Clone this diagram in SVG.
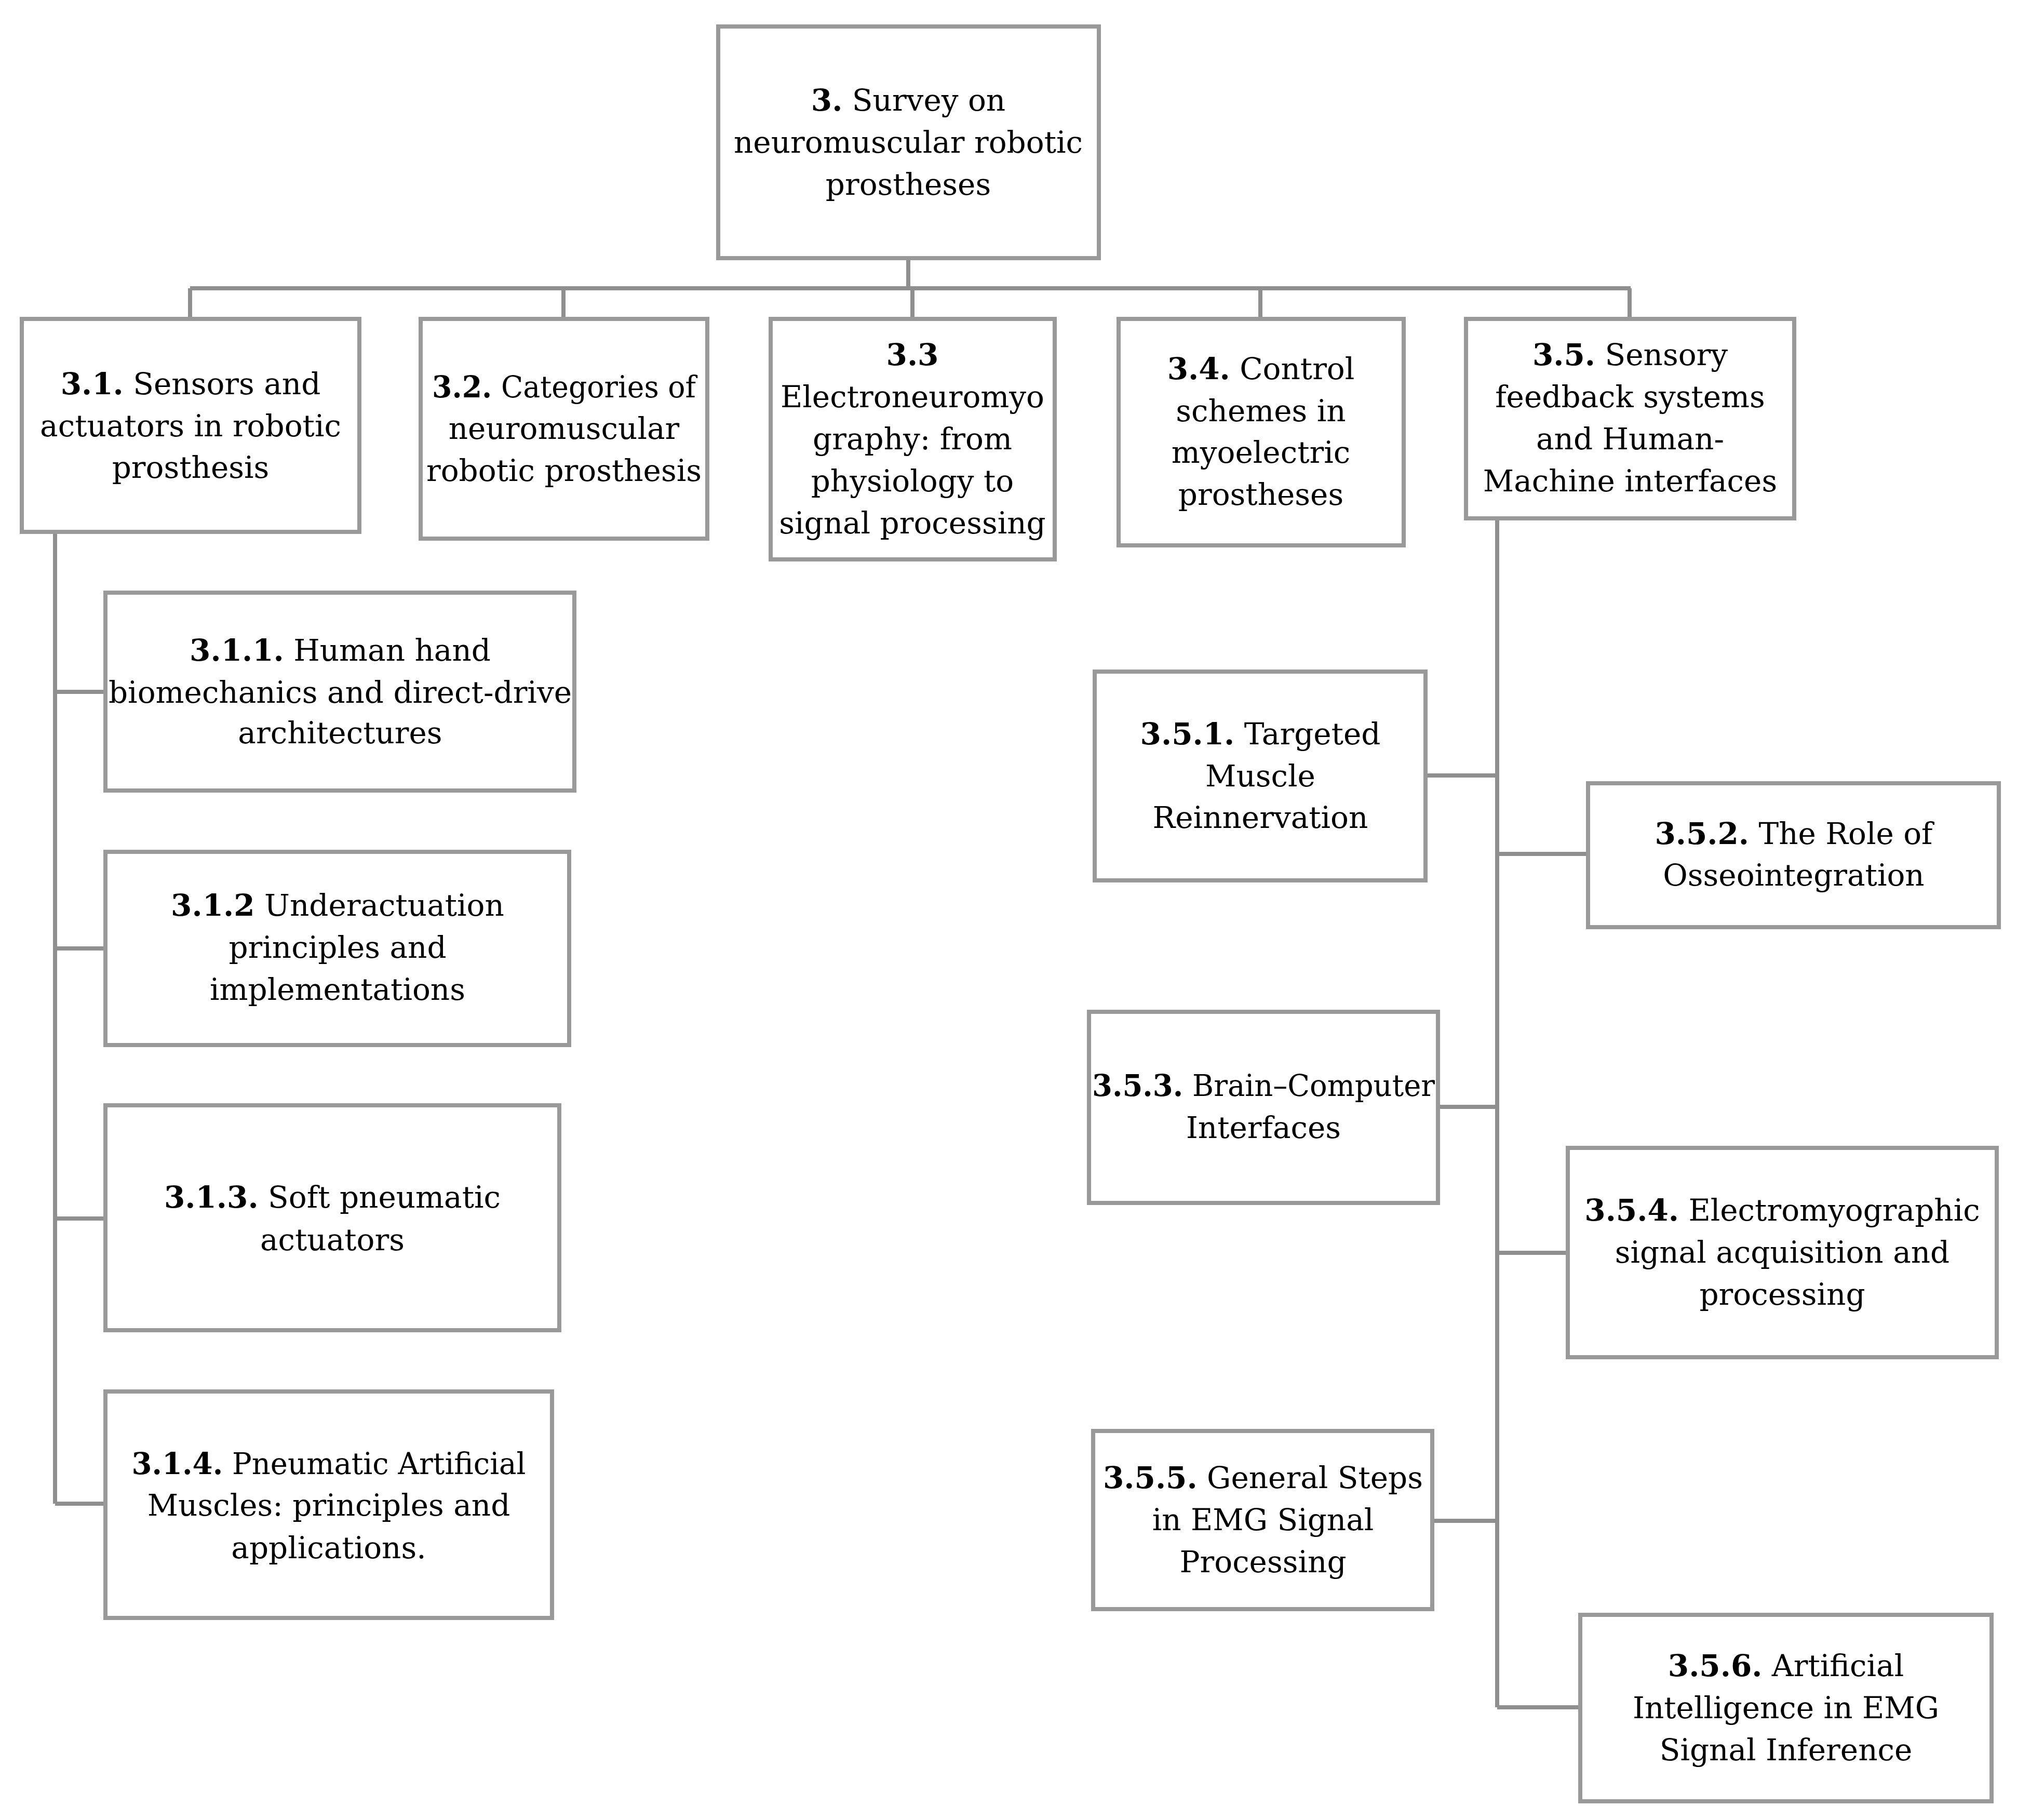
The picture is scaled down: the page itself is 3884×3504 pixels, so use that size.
<svg xmlns="http://www.w3.org/2000/svg" width="3884" height="3504" viewBox="0 0 3884 3504">
<style>
.box{fill:#ffffff;stroke:#999999;stroke-width:8}
.con{fill:none;stroke:#8f8f8f;stroke-width:8}
text{font-family:"DejaVu Serif","Liberation Serif",serif;font-size:58px;fill:#000000;text-anchor:middle}
.b{font-weight:bold}
</style>
<rect width="3884" height="3504" fill="#ffffff"/>
<g id="connectors">
<path class="con" d="M1749 501V555M366 555H3140M366 555V610M1085 555V610M1757 555V610M2427 555V610M3138 555V610"/>
<path class="con" d="M106 1028V2895M106 1332H203M106 1826H203M106 2346H203M106 2895H203"/>
<path class="con" d="M2883 1002V3287M2745 1493H2883M2883 1644H3058M2769 2131H2883M2883 2412H3019M2758 2928H2883M2883 3287H3043"/>
</g>
<g id="n3">
<rect class="box" x="1383" y="51" width="733" height="446"/>
<text x="1749" y="213"><tspan class="b">3.</tspan> Survey on</text>
<text x="1749" y="294">neuromuscular robotic</text>
<text x="1749" y="375">prostheses</text>
</g>
<g id="n31">
<rect class="box" x="42" y="614" width="650" height="410"/>
<text x="367" y="759"><tspan class="b">3.1.</tspan> Sensors and</text>
<text x="367" y="840">actuators in robotic</text>
<text x="367" y="920">prosthesis</text>
</g>
<g id="n32">
<rect class="box" x="810" y="614" width="552" height="423"/>
<text x="1086" y="765" textLength="508" lengthAdjust="spacingAndGlyphs"><tspan class="b">3.2.</tspan> Categories of</text>
<text x="1086" y="845">neuromuscular</text>
<text x="1086" y="926">robotic prosthesis</text>
</g>
<g id="n33">
<rect class="box" x="1484" y="614" width="547" height="463"/>
<text x="1757" y="703"><tspan class="b">3.3</tspan></text>
<text x="1757" y="784">Electroneuromyo</text>
<text x="1757" y="865">graphy: from</text>
<text x="1757" y="946">physiology to</text>
<text x="1757" y="1027">signal processing</text>
</g>
<g id="n34">
<rect class="box" x="2154" y="614" width="549" height="436"/>
<text x="2428" y="730"><tspan class="b">3.4.</tspan> Control</text>
<text x="2428" y="811">schemes in</text>
<text x="2428" y="891">myoelectric</text>
<text x="2428" y="972">prostheses</text>
</g>
<g id="n35">
<rect class="box" x="2823" y="614" width="632" height="384"/>
<text x="3139" y="703"><tspan class="b">3.5.</tspan> Sensory</text>
<text x="3139" y="784">feedback systems</text>
<text x="3139" y="865">and Human-</text>
<text x="3139" y="946">Machine interfaces</text>
</g>
<g id="n311">
<rect class="box" x="203" y="1141" width="903" height="381"/>
<text x="655" y="1272"><tspan class="b">3.1.1.</tspan> Human hand</text>
<text x="655" y="1353">biomechanics and direct-drive</text>
<text x="655" y="1431">architectures</text>
</g>
<g id="n312">
<rect class="box" x="203" y="1640" width="893" height="372"/>
<text x="650" y="1763"><tspan class="b">3.1.2</tspan> Underactuation</text>
<text x="650" y="1844">principles and</text>
<text x="650" y="1925">implementations</text>
</g>
<g id="n313">
<rect class="box" x="203" y="2128" width="874" height="433"/>
<text x="640" y="2325"><tspan class="b">3.1.3.</tspan> Soft pneumatic</text>
<text x="640" y="2407">actuators</text>
</g>
<g id="n314">
<rect class="box" x="203" y="2679" width="860" height="436"/>
<text x="633" y="2838" textLength="759" lengthAdjust="spacingAndGlyphs"><tspan class="b">3.1.4.</tspan> Pneumatic Artificial</text>
<text x="633" y="2918">Muscles: principles and</text>
<text x="633" y="3000">applications.</text>
</g>
<g id="n351">
<rect class="box" x="2108" y="1293" width="637" height="402"/>
<text x="2427" y="1433"><tspan class="b">3.5.1.</tspan> Targeted</text>
<text x="2427" y="1514">Muscle</text>
<text x="2427" y="1594">Reinnervation</text>
</g>
<g id="n352">
<rect class="box" x="3058" y="1508" width="791" height="277"/>
<text x="3454" y="1625"><tspan class="b">3.5.2.</tspan> The Role of</text>
<text x="3454" y="1705">Osseointegration</text>
</g>
<g id="n353">
<rect class="box" x="2097" y="1948" width="672" height="368"/>
<text x="2433" y="2110" textLength="660" lengthAdjust="spacingAndGlyphs"><tspan class="b">3.5.3.</tspan> Brain–Computer</text>
<text x="2433" y="2191">Interfaces</text>
</g>
<g id="n354">
<rect class="box" x="3019" y="2210" width="826" height="403"/>
<text x="3432" y="2350"><tspan class="b">3.5.4.</tspan> Electromyographic</text>
<text x="3432" y="2431">signal acquisition and</text>
<text x="3432" y="2512">processing</text>
</g>
<g id="n355">
<rect class="box" x="2105" y="2755" width="653" height="343"/>
<text x="2432" y="2865"><tspan class="b">3.5.5.</tspan> General Steps</text>
<text x="2432" y="2946">in EMG Signal</text>
<text x="2432" y="3027">Processing</text>
</g>
<g id="n356">
<rect class="box" x="3043" y="3109" width="792" height="359"/>
<text x="3439" y="3227"><tspan class="b">3.5.6.</tspan> Artificial</text>
<text x="3439" y="3308">Intelligence in EMG</text>
<text x="3439" y="3389">Signal Inference</text>
</g>
</svg>
